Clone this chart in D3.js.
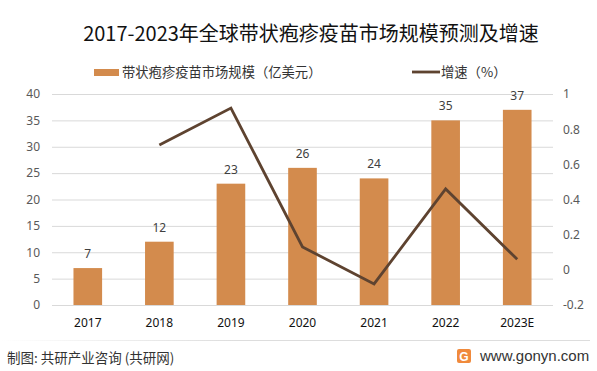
<!DOCTYPE html>
<html>
<head>
<meta charset="utf-8">
<script src="https://cdn.jsdelivr.net/npm/d3@7"></script>
<style>
  body { margin: 0; background: #fff; }
  svg { display: block; font-family: "Noto Sans CJK SC", "Noto Sans", sans-serif; }
</style>
</head>
<body>
<svg id="chart" width="597" height="371"></svg>
<script>
const years = ["2017", "2018", "2019", "2020", "2021", "2022", "2023E"];
const marketSize = [7, 12, 23, 26, 24, 35, 37];
const growth = [null, 0.71, 0.92, 0.13, -0.08, 0.46, 0.06];
const leftTicks = [0, 5, 10, 15, 20, 25, 30, 35, 40];
const rightTicks = [-0.2, 0, 0.2, 0.4, 0.6, 0.8, 1];

const barColor = "#d38b4d";
const lineColor = "#5e4330";

const svg = d3.select("#chart");
const margin = { top: 94, right: 44, bottom: 66, left: 52 };
const width = 597, height = 371;

const x = d3.scaleBand()
  .domain(years)
  .range([margin.left, width - margin.right])
  .paddingInner(0.6)
  .paddingOuter(0.3);

const yL = d3.scaleLinear().domain([0, 40]).range([height - margin.bottom, margin.top]);
const yR = d3.scaleLinear().domain([-0.2, 1]).range([height - margin.bottom, margin.top]);

// gridlines + left axis
const gl = svg.append("g")
  .attr("transform", `translate(${margin.left},0)`)
  .call(d3.axisLeft(yL).tickValues(leftTicks).tickSize(-(width - margin.left - margin.right)).tickPadding(12));
gl.select(".domain").remove();
gl.selectAll(".tick line").attr("stroke", "#d9d9d9");
gl.selectAll(".tick text").attr("fill", "#595959").attr("font-size", 12)
  .attr("font-family", "'Noto Sans', sans-serif");

// right axis
const gr = svg.append("g")
  .attr("transform", `translate(${width - margin.right},0)`)
  .call(d3.axisRight(yR).tickValues(rightTicks).tickSize(0).tickPadding(10)
    .tickFormat(d => String(+d.toFixed(1))));
gr.select(".domain").remove();
gr.selectAll(".tick text").attr("fill", "#595959").attr("font-size", 12)
  .attr("font-family", "'Noto Sans', sans-serif");

// x axis
const gx = svg.append("g")
  .attr("transform", `translate(0,${height - margin.bottom})`)
  .call(d3.axisBottom(x).tickSize(0).tickPadding(13));
gx.select(".domain").remove();
gx.selectAll(".tick text").attr("fill", "#111").attr("font-size", 12)
  .attr("font-family", "'Noto Sans', sans-serif");

// bars
svg.append("g").selectAll("rect")
  .data(years)
  .join("rect")
  .attr("x", d => x(d))
  .attr("width", x.bandwidth())
  .attr("y", (d, i) => yL(marketSize[i]))
  .attr("height", (d, i) => yL(0) - yL(marketSize[i]))
  .attr("fill", barColor);

svg.append("g").selectAll("text")
  .data(years)
  .join("text")
  .attr("x", d => x(d) + x.bandwidth() / 2)
  .attr("y", (d, i) => yL(marketSize[i]) - 10)
  .attr("text-anchor", "middle")
  .attr("font-size", 12)
  .attr("font-family", "'Noto Sans', sans-serif")
  .attr("fill", "#404040")
  .text((d, i) => marketSize[i]);

// growth line
const pts = years.map((d, i) => ({ year: d, v: growth[i] })).filter(p => p.v !== null);
svg.append("path")
  .datum(pts)
  .attr("fill", "none")
  .attr("stroke", lineColor)
  .attr("stroke-width", 2.8)
  .attr("d", d3.line().x(p => x(p.year) + x.bandwidth() / 2).y(p => yR(p.v)));

// title
svg.append("text")
  .attr("x", 311)
  .attr("y", 41)
  .attr("text-anchor", "middle")
  .attr("font-size", 20)
  .attr("fill", "#111")
  .text("2017-2023年全球带状疱疹疫苗市场规模预测及增速");

// legend
const lg = svg.append("g");
lg.append("rect").attr("x", 94).attr("y", 69).attr("width", 25).attr("height", 7).attr("fill", barColor);
lg.append("text").attr("x", 122).attr("y", 76.5).attr("font-size", 13.3).attr("fill", "#333")
  .text("带状疱疹疫苗市场规模（亿美元）");
lg.append("line").attr("x1", 412).attr("x2", 440).attr("y1", 72).attr("y2", 72)
  .attr("stroke", lineColor).attr("stroke-width", 2.8);
lg.append("text").attr("x", 441).attr("y", 76.5).attr("font-size", 13.3).attr("fill", "#333")
  .text("增速（%）");

// footer
const grad = svg.append("defs").append("linearGradient").attr("id", "sep");
grad.append("stop").attr("offset", "0%").attr("stop-color", "#ddd").attr("stop-opacity", 0);
grad.append("stop").attr("offset", "40%").attr("stop-color", "#ddd").attr("stop-opacity", 1);
svg.append("rect").attr("x", 0).attr("y", 340).attr("width", 590).attr("height", 1).attr("fill", "url(#sep)");

svg.append("text").attr("x", 7).attr("y", 363).attr("font-size", 13.5).attr("fill", "#333")
  .text("制图: 共研产业咨询 (共研网)");

const logo = svg.append("g").attr("transform", "translate(457,349)");
logo.append("rect").attr("width", 14).attr("height", 14).attr("rx", 2).attr("fill", "#f08a3c");
logo.append("text").attr("x", 7).attr("y", 11.5).attr("text-anchor", "middle")
  .attr("font-size", 12).attr("font-weight", "bold").attr("fill", "#fff")
  .attr("font-family", "'Liberation Sans', sans-serif").text("G");
svg.append("text").attr("x", 480).attr("y", 360.5).attr("font-size", 15).attr("fill", "#333")
  .attr("font-family", "'Liberation Sans', sans-serif").text("www.gonyn.com");
</script>
</body>
</html>
